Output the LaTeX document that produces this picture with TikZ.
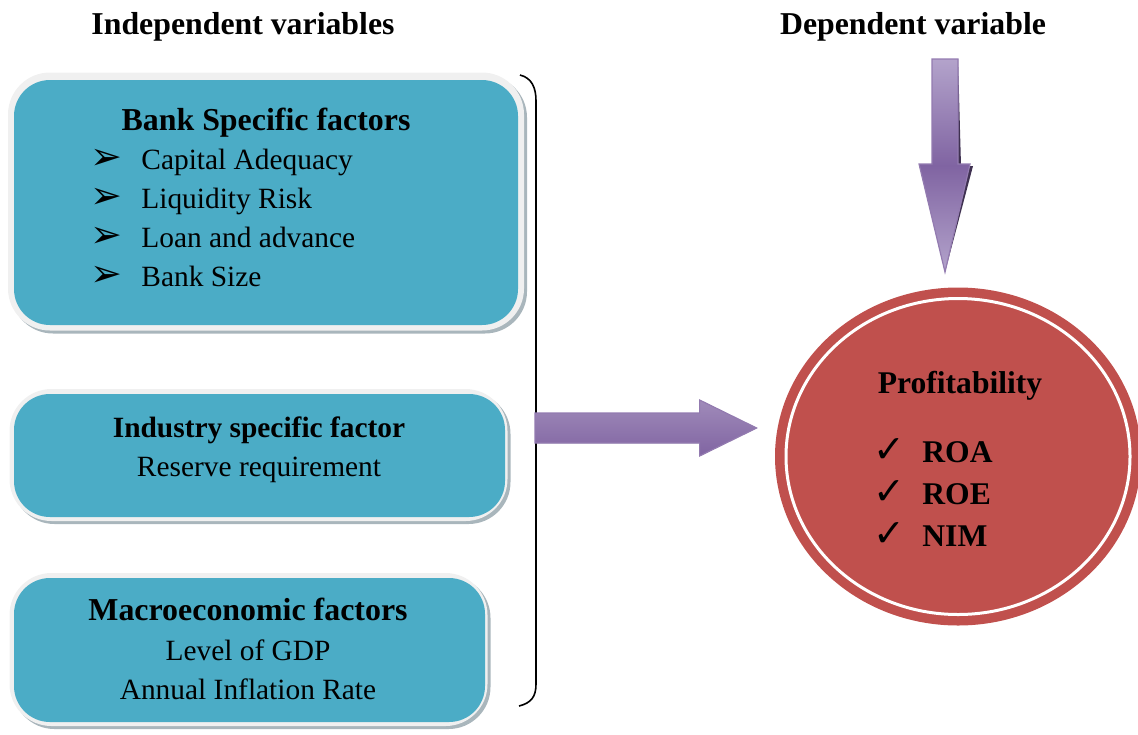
\documentclass[tikz,border=0pt]{standalone}
\usepackage{fontspec}
\setmainfont{Liberation Serif}
\newfontfamily\symfont{DejaVu Sans}
\usetikzlibrary{shadows,calc,shapes.geometric}

\definecolor{boxteal}{HTML}{4BACC6}
\definecolor{framegray}{HTML}{F0F0F0}
\definecolor{shadowgray}{HTML}{A9B6BC}
\definecolor{profred}{HTML}{C0504D}
\definecolor{arrowpurple}{HTML}{8064A2}
\definecolor{arrowlight}{HTML}{B3A3CB}
\definecolor{arrowdark}{HTML}{3F3151}

\tikzset{
  framebox/.style={draw=none, fill=framegray, rounded corners=21pt, inner sep=0pt,
    drop shadow={shadow xshift=1.5pt, shadow yshift=-1.5pt, fill=shadowgray, opacity=1}},
  tealbox/.style={draw=none, fill=boxteal, rounded corners=18pt, inner sep=0pt},
  heading/.style={inner sep=0pt, anchor=base, font=\fontsize{15.9}{18}\selectfont\bfseries},
  title/.style={inner sep=0pt, anchor=base, font=\fontsize{15.95}{18}\selectfont\bfseries},
  smalltitle/.style={inner sep=0pt, anchor=base, font=\fontsize{14.7}{17}\selectfont\bfseries},
  line/.style={inner sep=0pt, anchor=base, font=\fontsize{14.7}{17}\selectfont},
  item/.style={inner sep=0pt, anchor=base west, font=\fontsize{14.7}{17}\selectfont},
  bullet/.style={inner sep=0pt, anchor=base, font=\symfont\fontsize{19}{21}\selectfont},
  measure/.style={inner sep=0pt, anchor=base west, font=\fontsize{15.8}{18}\selectfont\bfseries},
  tick/.style={inner sep=0pt, anchor=base, font=\symfont\fontsize{19}{21}\selectfont},
  arrowbody/.style={draw=arrowpurple!85!white, line width=0.6pt, line join=miter},
  arrowshadow/.style={fill=arrowdark, draw=none}
}

\begin{document}
\begin{tikzpicture}[x=0.5pt,y=-0.5pt]
\useasboundingbox (0,0) rectangle (1138,734);

% headings
\node[heading] (indep) at (243,34) {Independent variables};
\node[heading] (dep) at (913,34) {Dependent variable};

% bank specific factors
\node[framebox, minimum width=258pt, minimum height=129pt] (frame1) at (266,201.5) {};
\node[tealbox, minimum width=252pt, minimum height=122.5pt] (bank) at (266,202.5) {};
\node[title] (banktitle) at (266,130) {Bank Specific factors};
\node[bullet] (b1) at (106,169) {➢};
\node[item] (i1) at (141,169.5) {Capital Adequacy};
\node[bullet] (b2) at (106,208) {➢};
\node[item] (i2) at (141,208.5) {Liquidity Risk};
\node[bullet] (b3) at (106,247) {➢};
\node[item] (i3) at (141,247.5) {Loan and advance};
\node[bullet] (b4) at (106,286) {➢};
\node[item] (i4) at (141,286.5) {Bank Size};

% industry specific factor
\node[framebox, minimum width=249pt, minimum height=66pt] (frame2) at (258.5,455) {};
\node[tealbox, minimum width=245.5pt, minimum height=61.5pt] (industry) at (259.5,455.5) {};
\node[smalltitle] (indtitle) at (259,437) {Industry specific factor};
\node[line] (indline) at (259,476) {Reserve requirement};

% macroeconomic factors
\node[framebox, minimum width=239pt, minimum height=76.5pt] (frame3) at (248.5,649.5) {};
\node[tealbox, minimum width=235.5pt, minimum height=72pt] (macro) at (249.5,650) {};
\node[title] (mactitle) at (248,620) {Macroeconomic factors};
\node[line] (mac1) at (248,660) {Level of GDP};
\node[line] (mac2) at (248,699) {Annual Inflation Rate};

% bracket grouping the three factor groups
\coordinate (bracetop) at (520,75);
\coordinate (bracebot) at (519,706);
\coordinate (bracemid) at (536,428);
\draw[line width=0.8pt]
  (bracetop) .. controls (532,78) and (536,88) .. (536,101)
  -- (536,684) .. controls (536,697) and (531,703) .. (bracebot);

% profitability
\node[ellipse, fill=profred, minimum width=183pt, minimum height=169pt, inner sep=0pt] (prof) at (958,456.5) {};
\node[ellipse, draw=white, line width=1.5pt, minimum width=172pt, minimum height=158pt, inner sep=0pt] (profring) at (prof.center) {};
\node[measure, anchor=base] (proftitle) at (960,393) {Profitability};
\node[tick] (t1) at (889,462) {✓};
\node[measure] (roa) at (922,462) {ROA};
\node[tick] (t2) at (889,504) {✓};
\node[measure] (roe) at (922,504) {ROE};
\node[tick] (t3) at (889,546) {✓};
\node[measure] (nim) at (922,546) {NIM};

% arrow from the factor groups to profitability
\coordinate (htip) at ($(prof.west |- bracemid)+(-18,0)$);
\begin{scope}[shift={(3,3)}]
  \fill[arrowshadow] ($(bracemid)+(-1,-15)$) -- ($(htip)+(-57,-15)$) -- ($(htip)+(-57,-28)$)
    -- (htip) -- ($(htip)+(-57,28)$) -- ($(htip)+(-57,15)$) -- ($(bracemid)+(-1,15)$) -- cycle;
\end{scope}
\path[arrowbody, top color=arrowpurple!75!white, bottom color=arrowpurple]
  ($(bracemid)+(-1,-15)$) -- ($(htip)+(-57,-15)$) -- ($(htip)+(-57,-28)$)
    -- (htip) -- ($(htip)+(-57,28)$) -- ($(htip)+(-57,15)$) -- ($(bracemid)+(-1,15)$) -- cycle;

% arrow from the heading down to profitability
\coordinate (vtop) at (945,59);
\coordinate (vtip) at ($(prof.north)+(-13,-15)$);
\begin{scope}[shift={(3,2)}]
  \fill[arrowshadow] ($(vtop)+(-13,0)$) -- ($(vtop)+(13,0)$) -- (958,164) -- (970,164)
    -- (vtip) -- (919,164) -- (932,164) -- cycle;
\end{scope}
\path[arrowbody, top color=arrowlight, bottom color=arrowlight, middle color=arrowpurple]
  ($(vtop)+(-13,0)$) -- ($(vtop)+(13,0)$) -- (958,164) -- (970,164)
    -- (vtip) -- (919,164) -- (932,164) -- cycle;
\end{tikzpicture}
\end{document}
